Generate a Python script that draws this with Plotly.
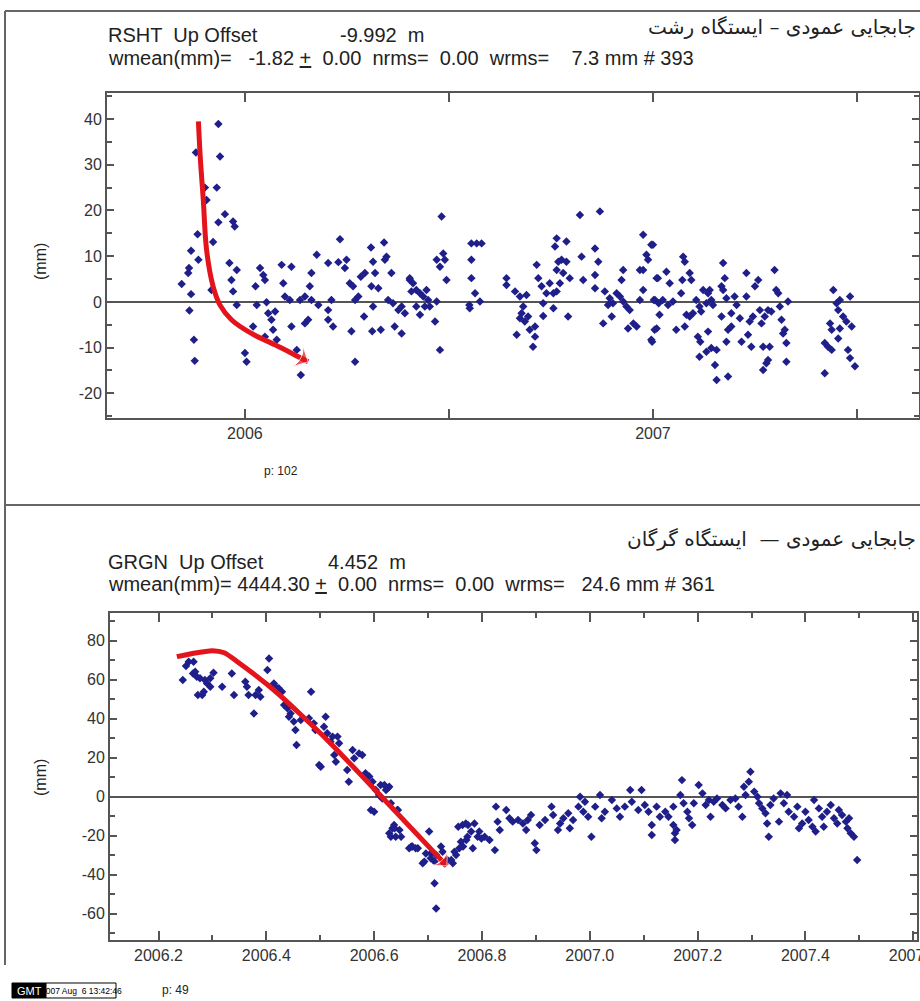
import plotly.graph_objects as go

# ---------------- data: RSHT (top panel) ----------------
top_t = [2005.845, 2005.861, 2005.863, 2005.868, 2005.884, 2005.886, 2005.880, 2005.868, 2005.864, 2005.875,
         2005.877, 2005.902, 2005.906, 2005.918, 2005.922, 2005.931, 2005.935, 2005.939, 2005.935, 2005.951,
         2005.971, 2005.975, 2005.962, 2005.980, 2005.967, 2005.971, 2005.980, 2006.000, 2006.004, 2006.020,
         2006.026, 2006.037, 2006.045, 2006.049, 2006.029, 2006.053, 2006.057, 2006.065, 2006.074, 2006.069,
         2006.049, 2006.078, 2006.090, 2006.094, 2006.098, 2006.114, 2006.110, 2006.114, 2006.127, 2006.137,
         2006.135, 2006.147, 2006.155, 2006.147, 2006.159, 2006.163, 2006.176, 2006.163, 2006.180, 2006.204,
         2006.212, 2006.204, 2006.216, 2006.204, 2006.229, 2006.249, 2006.233, 2006.245, 2006.257, 2006.265,
         2006.270, 2006.278, 2006.261, 2006.270, 2006.292, 2006.284, 2006.294, 2006.309, 2006.314, 2006.319,
         2006.310, 2006.314, 2006.312, 2006.333, 2006.341, 2006.347, 2006.343, 2006.327, 2006.359, 2006.351,
         2006.363, 2006.376, 2006.384, 2006.392, 2006.367, 2006.384, 2006.404, 2006.408,
         2006.404, 2006.412, 2006.420, 2006.429, 2006.437, 2006.445, 2006.449, 2006.420, 2006.429, 2006.441,
         2006.453, 2006.466, 2006.470, 2006.478, 2006.482, 2006.470, 2006.478, 2006.486, 2006.490, 2006.494,
         2006.555, 2006.568, 2006.580, 2006.555, 2006.555, 2006.564, 2006.550, 2006.551, 2006.576, 2006.641,
         2006.641, 2006.662, 2006.674, 2006.690, 2006.682, 2006.678, 2006.674, 2006.686, 2006.694, 2006.666,
         2006.698, 2006.711, 2006.711, 2006.706, 2006.715, 2006.719, 2006.727, 2006.731, 2006.731, 2006.739,
         2006.747, 2006.756, 2006.756, 2006.760, 2006.764, 2006.768, 2006.764, 2006.776, 2006.788, 2006.788,
         2006.780, 2006.772, 2006.764, 2006.796, 2006.792, 2006.821, 2006.870, 2006.825, 2006.829, 2006.858,
         2006.858, 2006.866, 2006.858, 2006.882, 2006.894, 2006.902, 2006.890, 2006.899, 2006.878, 2006.911,
         2006.919, 2006.927, 2006.935, 2006.943, 2006.927, 2006.923, 2006.939, 2006.952, 2006.960, 2006.968,
         2006.976, 2006.984, 2006.988, 2006.996, 2006.976, 2006.976, 2006.968, 2007.009, 2007.005, 2006.996,
         2007.009,
         2007.000, 2007.012, 2007.033, 2007.002, 2007.014, 2007.024, 2007.037, 2007.049, 2007.041, 2007.016,
         2007.004, 2006.998, 2007.057, 2007.074, 2007.078, 2007.072, 2007.090, 2007.094, 2007.069, 2007.082,
         2007.090, 2007.098, 2007.106, 2007.114, 2007.118, 2007.078, 2007.110, 2007.116, 2007.135, 2007.114,
         2007.131, 2007.143, 2007.123, 2007.135, 2007.143, 2007.147, 2007.131, 2007.139, 2007.156, 2007.152,
         2007.156, 2007.184, 2007.172, 2007.176, 2007.168, 2007.172, 2007.180, 2007.168, 2007.184, 2007.180,
         2007.192, 2007.200, 2007.205, 2007.192, 2007.213, 2007.217, 2007.229, 2007.229, 2007.233, 2007.237,
         2007.241, 2007.250, 2007.245, 2007.258, 2007.262, 2007.266, 2007.270, 2007.274, 2007.282, 2007.278,
         2007.286, 2007.290, 2007.298, 2007.302, 2007.307, 2007.311, 2007.315, 2007.319, 2007.323, 2007.327,
         2007.331, 2007.327, 2007.270, 2007.282,
         2007.442, 2007.450, 2007.458, 2007.454, 2007.466, 2007.474, 2007.483, 2007.487, 2007.434, 2007.438,
         2007.458, 2007.454, 2007.421, 2007.429, 2007.438, 2007.421, 2007.478, 2007.483, 2007.495]
top_v = [3.9, 6.3, 7.4, 11.2, 14.8, 9.2, 32.7, 1.7, -1.9, -8.3,
         -12.9, 25.0, 22.3, 2.6, 13.1, 25.0, 38.9, 31.8, 17.4, 19.2,
         17.6, 16.5, 8.5, 7.0, 4.8, 2.3, -0.7, -11.2, -13.1, -5.4,
         3.4, 7.4, 5.9, 4.8, -0.7, -0.1, -2.5, -3.9, -2.1, -6.1,
         -7.6, -8.3, 8.1, 4.1, 1.2, 7.7, 0.4, -5.4, -10.5, -16.0,
         0.4, 1.2, -3.9, -4.7, 3.4, 6.3, 10.3, 0.4, -0.7, -1.8,
         0.4, -3.9, -5.4, 8.5, 8.7, 9.2, 13.7, 7.4, 4.1, 3.4,
         0.4, 1.2, -6.4, -13.1, -3.2, 5.5, 6.3, 11.9, 8.8, 6.3,
         3.4, -1.0, -6.4, -6.1, 13.0, 9.9, 9.2, 3.0, 6.3, 0.4,
         -0.3, -1.8, -1.0, -2.5, -5.4, -6.9, 4.8, 2.3,
         5.2, 4.1, 2.6, 1.9, 1.2, 2.6, 0.4, -1.0, -2.8, -1.0,
         -1.0, -4.3, 0.1, -10.5, 18.7, 9.2, 7.7, 10.6, 9.2, 4.8,
         12.8, 12.8, 12.8, 9.2, 5.2, 1.9, -0.7, -1.4, 0.1, 5.2,
         3.7, 2.3, 1.2, 1.5, -1.0, -2.5, -3.6, -4.3, -3.2, -7.2,
         -6.1, -5.4, -7.6, -9.8, 8.1, 5.2, 3.4, -0.3, -3.1, 1.9,
         4.1, 1.9, -1.4, 12.1, 13.9, 8.8, 7.0, 9.2, 13.2, 8.8,
         6.3, 4.1, 2.3, 5.2, -3.2, 19.0, 19.8, 9.9, 4.8, 11.7,
         5.9, 8.8, 3.0, 2.3, 0.8, -0.3, -0.7, -3.2, -4.7, 1.9,
         1.2, 0.1, -1.0, -1.8, 7.0, 4.8, -5.8, -4.7, -5.4, 7.0,
         14.7, 10.3, 9.2, 12.5, 7.0, 2.6, 0.4, 5.2, 0.4, -8.3,
         -5.8,
         12.5, 5.2, 6.6, 0.4, -0.3, 0.4, -0.7, 0.1, 4.1, -2.8,
         -6.1, -8.7, -6.1, 9.9, 8.8, 4.8, 6.3, 4.8, 1.9, -2.8,
         -3.2, -2.5, 0.4, -1.0, -2.1, -5.4, -7.6, -8.7, -6.5, -12.0,
         -10.9, -10.1, 2.6, 1.9, 0.4, -0.7, -0.3, 2.6, -10.5, -13.8,
         -17.1, -16.3, 8.5, 5.2, 3.4, 2.6, 0.8, -3.2, -6.1, -8.7,
         -5.4, 1.2, -0.7, -2.5, -3.6, -8.7, 6.3, 1.2, -7.2, -4.3,
         -9.8, 3.4, -3.2, 4.8, -1.8, -4.7, -9.8, -3.2, -1.8, -13.4,
         -9.8, -2.1, 7.0, 2.6, 1.9, -1.0, -3.9, -6.9, -6.1, -9.0,
         0.1, -13.1, -14.9, -12.7,
         2.6, -0.3, 0.4, -1.8, -3.2, -4.3, 1.2, -5.4, -4.7, -6.1,
         -5.8, -8.0, -9.0, -9.8, -10.5, -15.6, -10.5, -12.3, -14.1]

top_arrow_t = [2005.886, 2005.891, 2005.898, 2005.906, 2005.922, 2005.939, 2005.967, 2006.016, 2006.074, 2006.131, 2006.155]
top_arrow_v = [39.5, 31.0, 22.3, 11.4, 3.4, -0.7, -3.9, -6.9, -9.4, -12.0, -13.1]

# ---------------- data: GRGN (bottom panel) ----------------
bot_t = [2006.245, 2006.251, 2006.256, 2006.265, 2006.264, 2006.268, 2006.271, 2006.273, 2006.281, 2006.284,
         2006.277, 2006.286, 2006.290, 2006.296, 2006.302, 2006.296, 2006.318, 2006.336, 2006.340, 2006.361,
         2006.364, 2006.367, 2006.377, 2006.380, 2006.386, 2006.389, 2006.402, 2006.405, 2006.414, 2006.417,
         2006.423, 2006.429, 2006.433, 2006.439, 2006.445, 2006.442, 2006.451, 2006.454, 2006.456, 2006.464,
         2006.479, 2006.483, 2006.488, 2006.491, 2006.498, 2006.501, 2006.507, 2006.510, 2006.513, 2006.519,
         2006.526, 2006.523, 2006.532, 2006.529, 2006.535, 2006.550, 2006.553, 2006.560, 2006.563, 2006.572,
         2006.578, 2006.584, 2006.591, 2006.597, 2006.594, 2006.600, 2006.603, 2006.609, 2006.612, 2006.615,
         2006.625, 2006.628, 2006.631, 2006.628, 2006.634, 2006.637, 2006.640, 2006.647, 2006.643, 2006.650,
         2006.665, 2006.671, 2006.681, 2006.690, 2006.696, 2006.702, 2006.705, 2006.712, 2006.715, 2006.712,
         2006.724, 2006.727, 2006.736, 2006.746, 2006.752, 2006.758, 2006.761, 2006.764, 2006.770, 2006.773,
         2006.783, 2006.786, 2006.795, 2006.805, 2006.814,
         2006.619, 2006.622, 2006.644, 2006.638, 2006.631, 2006.669, 2006.677, 2006.693, 2006.705, 2006.715,
         2006.730, 2006.743, 2006.749, 2006.765, 2006.771, 2006.756, 2006.774, 2006.780, 2006.792, 2006.799,
         2006.824, 2006.826, 2006.833, 2006.829, 2006.845, 2006.851, 2006.857, 2006.867, 2006.876, 2006.882,
         2006.885, 2006.891, 2006.898, 2006.901, 2006.907, 2006.917, 2006.929, 2006.932, 2006.941, 2006.945,
         2006.951, 2006.960, 2006.963, 2006.969, 2006.979, 2006.982, 2006.988, 2006.991, 2006.997, 2007.003,
         2007.010, 2007.019, 2007.022, 2007.028, 2007.041, 2007.050, 2007.056, 2007.065, 2007.075, 2007.078,
         2007.090,
         2007.096, 2007.102, 2007.109, 2007.115, 2007.115, 2007.124, 2007.130, 2007.140, 2007.146, 2007.155,
         2007.155, 2007.158, 2007.158, 2007.161, 2007.168, 2007.171, 2007.174, 2007.181, 2007.184, 2007.190,
         2007.193, 2007.202, 2007.209, 2007.215, 2007.221, 2007.224, 2007.230, 2007.236, 2007.246, 2007.252,
         2007.261, 2007.270, 2007.276, 2007.283, 2007.286, 2007.289, 2007.298, 2007.295, 2007.305, 2007.311,
         2007.314, 2007.320, 2007.326, 2007.329, 2007.332, 2007.335, 2007.341, 2007.351, 2007.354, 2007.360,
         2007.366, 2007.369, 2007.379, 2007.385, 2007.388, 2007.394, 2007.400, 2007.406, 2007.413, 2007.416,
         2007.419, 2007.425, 2007.431, 2007.434, 2007.440, 2007.447, 2007.453, 2007.459, 2007.462, 2007.468,
         2007.475, 2007.478, 2007.484, 2007.490, 2007.496, 2007.481]
bot_v = [59.8, 67.0, 69.2, 69.2, 63.2, 64.1, 61.5, 52.1, 52.1, 53.8,
         60.7, 59.8, 58.1, 60.7, 63.6, 56.4, 56.4, 63.2, 52.1, 59.0,
         56.4, 52.1, 42.7, 52.1, 54.7, 51.3, 65.0, 70.9, 58.1, 56.4,
         55.6, 53.8, 47.0, 45.3, 42.7, 41.0, 38.5, 34.2, 26.5, 39.3,
         40.2, 53.8, 37.6, 34.2, 16.2, 15.4, 35.9, 41.0, 32.5, 28.2,
         21.4, 30.8, 30.8, 17.9, 27.4, 13.7, 7.7, 23.9, 19.7, 22.2,
         21.4, 12.0, 10.3, 7.7, -6.8, -7.7, 3.4, 0.9, 6.0, -0.9,
         4.3, 5.1, -3.4, -18.8, -16.2, -14.5, -20.5, -17.1, -6.8, -20.5,
         -26.5, -25.6, -26.5, -34.2, -29.1, -17.9, -29.1, -44.4, -57.3, -33.3,
         -25.6, -28.2, -32.5, -34.2, -29.9, -26.5, -23.1, -14.5, -13.7, -20.5,
         -26.5, -13.7, -17.9, -20.5, -22.2,
         6.0, 3.4, -6.8, -16.2, -20.5, -25.6, -26.5, -33.3, -31.6, -29.9,
         -34.2, -32.5, -28.2, -25.6, -22.2, -15.4, -14.5, -17.9, -20.5, -21.4,
         -27.4, -5.1, -17.1, -12.8, -6.8, -11.1, -12.8, -12.0, -13.7, -17.1,
         -12.0, -9.4, -23.9, -27.4, -14.5, -12.0, -5.1, -9.4, -17.1, -13.7,
         -11.1, -8.5, -16.2, -12.0, -5.1, 0.0, -7.7, -2.6, -10.3, -20.5,
         -5.1, 0.9, -11.1, -7.7, -1.7, -6.0, -10.3, -5.1, 3.4, -2.6,
         -6.8,
         3.4, -4.3, -7.7, -14.5, -19.7, -5.1, -10.3, -7.7, -10.3, -5.1,
         -14.5, -18.8, -22.2, -17.1, 0.9, 8.5, -3.4, -7.7, -11.1, -14.5,
         -3.4, 6.0, 1.7, -4.3, -1.7, -10.3, -2.6, -0.9, -4.3, -6.0,
         -1.7, -0.9, -5.1, -10.3, 5.1, 0.9, 12.8, 7.7, 2.6, 0.0,
         -3.4, -6.0, -8.5, -13.7, -20.5, -4.3, -0.9, -12.8, 1.7, -3.4,
         0.9, -7.7, -10.3, -5.1, -16.2, -13.7, -7.7, -12.0, -15.4, -1.7,
         -17.9, -6.0, -10.3, -15.4, -7.7, -4.3, -11.1, -13.7, -6.8, -9.4,
         -12.8, -16.2, -18.8, -20.5, -32.5, -11.1]

bot_arrow_t = [2006.234, 2006.265, 2006.300, 2006.322, 2006.345, 2006.414, 2006.513, 2006.637, 2006.735]
bot_arrow_v = [71.8, 73.6, 74.9, 73.8, 69.5, 54.7, 29.1, -6.8, -35.5]

top_xticks = [2006, 2007]
top_xticklabels = ["2006", "2007"]
top_yticks = [-20, -10, 0, 10, 20, 30, 40]
bot_xticks = [2006.2, 2006.4, 2006.6, 2006.8, 2007.0, 2007.2, 2007.4, 2007.6]
bot_yticks = [-60, -40, -20, 0, 20, 40, 60, 80]

# ---------------- figure ----------------
W, H = 920, 1001
DOT = "#1f1f8a"
RED = "#e3141c"
AX = "#555555"
FONT = "Liberation Sans, Arial, sans-serif"
FA_FONT = "DejaVu Sans, Noto Sans, sans-serif"


def px(x):
    return x / W


def py(y):
    return 1 - y / H


fig = go.Figure()

fig.add_trace(go.Scatter(x=top_t, y=top_v, mode="markers", xaxis="x", yaxis="y",
                         marker=dict(symbol="diamond", size=6.5, color=DOT), showlegend=False))
fig.add_trace(go.Scatter(x=top_arrow_t, y=top_arrow_v, mode="lines+markers", xaxis="x", yaxis="y",
                         line=dict(color=RED, width=5, shape="spline"),
                         marker=dict(symbol="arrow-wide", angleref="previous", color=RED,
                                     size=[0] * (len(top_arrow_t) - 1) + [20]),
                         showlegend=False))

fig.add_trace(go.Scatter(x=bot_t, y=bot_v, mode="markers", xaxis="x2", yaxis="y2",
                         marker=dict(symbol="diamond", size=6.5, color=DOT), showlegend=False))
fig.add_trace(go.Scatter(x=bot_arrow_t, y=bot_arrow_v, mode="lines+markers", xaxis="x2", yaxis="y2",
                         line=dict(color=RED, width=5, shape="spline", smoothing=0.6),
                         marker=dict(symbol="arrow-wide", angleref="previous", color=RED,
                                     size=[0] * (len(bot_arrow_t) - 1) + [18]),
                         showlegend=False))

axis_common = dict(showline=True, linecolor=AX, linewidth=2, mirror="ticks", ticks="inside",
                   tickcolor=AX, tickwidth=1.5, showgrid=False, ticklabeloverflow="allow",
                   tickfont=dict(family=FONT, size=16, color="#333333"))

fig.update_layout(
    width=W, height=H, margin=dict(l=0, r=0, t=0, b=0, autoexpand=False),
    paper_bgcolor="white", plot_bgcolor="white",
    xaxis=dict(domain=[px(107), px(919)], range=[2005.662, 2007.652], anchor="y",
               tickvals=top_xticks, ticktext=top_xticklabels, ticklen=9,
               minor=dict(tick0=2006, dtick=0.5, ticklen=9, ticks="inside", tickcolor=AX),
               zeroline=False, **axis_common),
    yaxis=dict(domain=[py(418), py(93)], range=[-25.4, 45.7], anchor="x",
               tickvals=top_yticks, ticktext=[str(v) for v in top_yticks], ticklen=7,
               minor=dict(tick0=0, dtick=5, ticklen=5, ticks="inside", tickcolor=AX),
               zeroline=True, zerolinecolor=AX, zerolinewidth=2, **axis_common),
    xaxis2=dict(domain=[px(110), px(917)], range=[2006.110, 2007.607], anchor="y2",
                tickvals=bot_xticks, ticktext=["%.1f" % v for v in bot_xticks], ticklen=9,
                minor=dict(tick0=2006.2, dtick=0.1, ticklen=5, ticks="inside", tickcolor=AX),
                zeroline=False, **axis_common),
    yaxis2=dict(domain=[py(940), py(613)], range=[-73.5, 94.2], anchor="x2",
                tickvals=bot_yticks, ticktext=[str(v) for v in bot_yticks], ticklen=7,
                minor=dict(tick0=0, dtick=10, ticklen=5, ticks="inside", tickcolor=AX),
                zeroline=True, zerolinecolor=AX, zerolinewidth=2, **axis_common),
)

# frame lines of the page and the GMT stamp boxes
shapes = [
    dict(type="line", xref="paper", yref="paper", x0=px(5), x1=1, y0=py(11), y1=py(11),
         line=dict(color="#666666", width=2)),
    dict(type="line", xref="paper", yref="paper", x0=px(5), x1=px(5), y0=py(11), y1=py(965),
         line=dict(color="#666666", width=2)),
    dict(type="line", xref="paper", yref="paper", x0=px(5), x1=1, y0=py(505), y1=py(505),
         line=dict(color="#666666", width=2)),
    dict(type="rect", xref="paper", yref="paper", x0=px(12), x1=px(46), y0=py(998), y1=py(983),
         fillcolor="black", line=dict(color="black", width=1)),
    dict(type="rect", xref="paper", yref="paper", x0=px(46), x1=px(116), y0=py(998), y1=py(983),
         fillcolor="white", line=dict(color="black", width=1)),
]
fig.update_layout(shapes=shapes)


def txt(x, y, s, size=15, anchor="left", color="#222222", family=FONT, angle=0):
    return dict(x=px(x), y=py(y), xref="paper", yref="paper", text=s, showarrow=False,
                xanchor=anchor, yanchor="middle", textangle=angle,
                font=dict(family=family, size=size, color=color))


ann = [
    txt(106, 35, "RSHT  Up Offset", 20),
    txt(338, 35, "-9.992  m", 20),
    txt(106, 58, "wmean(mm)=   -1.82 <u>+</u>  0.00  nrms=  0.00  wrms=    7.3 mm # 393", 20),
    txt(918, 27, "جابجایی عمودی – ایستگاه رشت", 20, anchor="right", family=FA_FONT),
    txt(40, 262, "(mm)", 16, anchor="center", angle=-90),
    txt(262, 471, "p: 102", 12),
    txt(918, 539, "جابجایی عمودی —  ایستگاه گرگان", 20, anchor="right", family=FA_FONT),
    txt(106, 562, "GRGN  Up Offset", 20),
    txt(326, 562, "4.452  m", 20),
    txt(106, 584, "wmean(mm)= 4444.30 <u>+</u>  0.00  nrms=  0.00  wrms=   24.6 mm # 361", 20),
    txt(40, 778, "(mm)", 16, anchor="center", angle=-90),
    txt(160, 990, "p: 49", 12),
    txt(29, 990.5, "GMT", 11, anchor="center", color="white"),
    txt(81, 990.5, "2007 Aug  6 13:42:46", 8.5, anchor="center", color="black"),
]
fig.update_layout(annotations=ann)

fig.write_html("out.html", config={"displayModeBar": False},
               post_script="document.body.style.margin='0';document.body.style.overflow='hidden';")
